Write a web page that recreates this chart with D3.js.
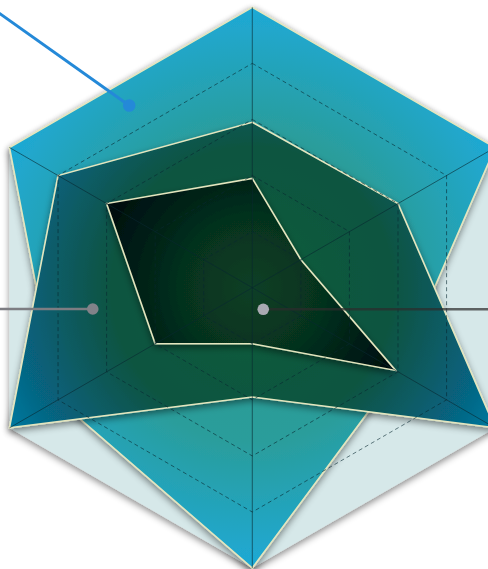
<!DOCTYPE html>
<html>
<head>
<meta charset="utf-8">
<script src="https://cdn.jsdelivr.net/npm/d3@7"></script>
<style>
  body{margin:0;background:#fff;overflow:hidden;}
</style>
</head>
<body>
<svg id="chart"></svg>
<script>

// six unnamed axes, clockwise from the top
var axes = ["a1","a2","a3","a4","a5","a6"];
var levels = [0.2, 0.4, 0.6, 0.8];

var seriesA = [1.0, 1.0, 0.6, 1.0, 0.8, 1.0];
var seriesB = [0.59, 0.6, 1.0, 0.39, 1.0, 0.8];
var seriesC = [0.39, 0.2, 0.59, 0.2, 0.4, 0.6];

// leader lines, in radius units from the centre, dot at the inner end
var leaders = [
  {from:[-1.08,-1.105], dot:[-0.439,-0.65], line:"#2489d8", dotc:"#2489d8", w:3, r:6.3},
  {from:[-1.10, 0.076], dot:[-0.569, 0.076], line:"#7d7d82", dotc:"#828289", w:2.5, r:5.8},
  {from:[ 1.10, 0.077], dot:[ 0.039, 0.077], line:"rgba(45,45,45,0.72)", dotc:"#a9a9b2", w:2.5, r:5.8}
];

var width = 488, height = 569;
var cx = 252.3, cy = 287.7, R = 280.4;

var svg = d3.select("#chart").attr("width", width).attr("height", height);
var defs = svg.append("defs");

var r = d3.scaleLinear().domain([0,1]).range([0,R]);
var px = d3.scaleLinear().domain([-1,1]).range([cx-R, cx+R]);
var py = d3.scaleLinear().domain([-1,1]).range([cy-R, cy+R]);
var angle = d3.scalePoint().domain(axes.concat(["end"])).range([0, 2*Math.PI]);

var radar = d3.lineRadial()
  .angle(function(d,i){ return angle(axes[i]); })
  .radius(function(d){ return r(d); })
  .curve(d3.curveLinearClosed);

function radial(id, stops){
  var g = defs.append("radialGradient").attr("id", id)
    .attr("gradientUnits","userSpaceOnUse")
    .attr("cx",0).attr("cy",0).attr("r",R);
  stops.forEach(function(s){
    g.append("stop").attr("offset", s[0]).attr("stop-color", s[1]);
  });
}
radial("gA", [[0,"#2c9a8e"],[0.55,"#2a9d9b"],[1,"#1ea9d6"]]);
radial("gB", [[0,"#0d5f3b"],[0.5,"#0a5440"],[0.8,"#075f78"],[1,"#0479a0"]]);
radial("gC", [[0,"#0a3f26"],[0.25,"#06321e"],[0.6,"#010a0d"]]);

var f = defs.append("filter").attr("id","shadow")
  .attr("x","-20%").attr("y","-20%").attr("width","140%").attr("height","140%");
f.append("feDropShadow").attr("dx",0).attr("dy",3).attr("stdDeviation",3.5)
  .attr("flood-color","#000").attr("flood-opacity",0.45);

var g = svg.append("g").attr("transform","translate("+cx+","+cy+")");

var full = axes.map(function(){ return 1; });

// background hexagon
g.append("path").attr("d", radar(full))
  .attr("fill","#d6e8e9")
  .attr("filter","url(#shadow)");

[[seriesA,"gA"],[seriesB,"gB"],[seriesC,"gC"]].forEach(function(s){
  g.append("path").attr("d", radar(s[0]))
    .attr("fill","url(#"+s[1]+")")
    .attr("stroke","#e4e6bf")
    .attr("stroke-width",1.6)
    .attr("stroke-linejoin","miter")
    .attr("filter","url(#shadow)");
});

// grid on top
g.selectAll(".level").data(levels).enter()
  .append("path")
  .attr("class","level")
  .attr("d", function(l){ return radar(axes.map(function(){ return l; })); })
  .attr("fill","none")
  .attr("stroke","rgba(8,40,48,0.6)")
  .attr("stroke-width",1)
  .attr("stroke-dasharray","4,3");

g.selectAll(".axis").data(axes).enter()
  .append("line")
  .attr("class","axis")
  .attr("x1",0).attr("y1",0)
  .attr("x2", function(a){ return r(1)*Math.sin(angle(a)); })
  .attr("y2", function(a){ return -r(1)*Math.cos(angle(a)); })
  .attr("stroke","rgba(8,40,48,0.6)")
  .attr("stroke-width",1);

// leader lines
var lg = svg.append("g");
leaders.forEach(function(d){
  lg.append("line")
    .attr("x1", px(d.from[0])).attr("y1", py(d.from[1]))
    .attr("x2", px(d.dot[0])).attr("y2", py(d.dot[1]))
    .attr("stroke", d.line).attr("stroke-width", d.w);
  lg.append("circle")
    .attr("cx", px(d.dot[0])).attr("cy", py(d.dot[1]))
    .attr("r", d.r).attr("fill", d.dotc);
});

</script>
</body>
</html>
